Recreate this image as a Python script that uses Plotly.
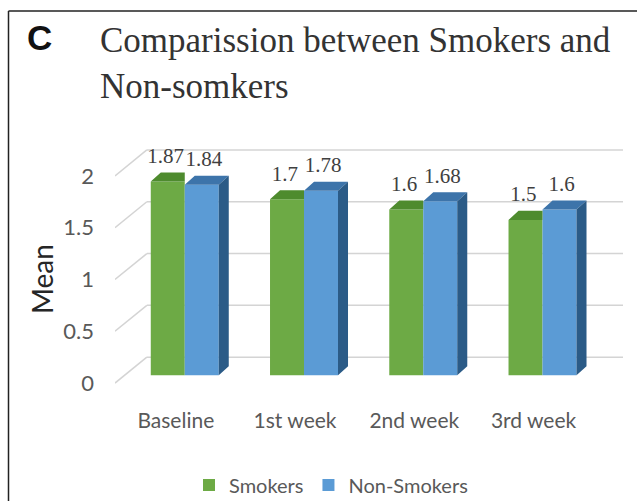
import plotly.graph_objects as go

# ---------------- data ----------------
categories = ["Baseline", "1st week", "2nd week", "3rd week"]
smokers = [1.87, 1.7, 1.6, 1.5]
non_smokers = [1.84, 1.78, 1.68, 1.6]
series_names = ["Smokers", "Non-Smokers"]
y_ticks = [0, 0.5, 1, 1.5, 2]
y_tick_labels = ["0", "0.5", "1", "1.5", "2"]
title_letter = "C"
title_text = "Comparission between Smokers and<br>Non-somkers"
y_title = "Mean"

# ---------------- style ----------------
W, H = 637, 501
ML, MR, MT, MB = 115, 14, 137, 105
X_RANGE = [-0.51, 3.75]
Y_RANGE = [-0.2, 2.3]
BAR_W = 0.285          # front face width (category units)
SHIFT = 0.075          # group centre shift from label position
DX, DY = 0.084, 0.087  # bar depth (x units, y units)
FRONT, BACK = -0.075, 0.175  # depth of front edge / back wall (y units)
X_WALL = -0.243        # left end of back wall
LAB_SPREAD = 0.018     # small horizontal spread of value labels
GRID = "#D4D4D4"
GREEN = ("#6DAA45", "#4E8B2E")
BLUE = ("#5B9BD5", "#3D74AA", "#2B5B87")
TXT = "#595959"

pw = W - ML - MR
ph = H - MT - MB


def px_x(p):
    return (p - ML) / pw


def px_y(p):
    return (H - MB - p) / ph


pos = list(range(len(categories)))
fig = go.Figure()

# front faces (bars)
fig.add_trace(go.Bar(
    x=pos, y=smokers, name=series_names[0], width=BAR_W, offset=SHIFT - BAR_W,
    marker=dict(color=GREEN[0], line_width=0), hoverinfo="skip"))
fig.add_trace(go.Bar(
    x=pos, y=non_smokers, name=series_names[1], width=BAR_W, offset=SHIFT,
    marker=dict(color=BLUE[0], line_width=0), hoverinfo="skip"))


def poly_trace(polys, color):
    xs, ys = [], []
    for pts in polys:
        for (a, b) in pts:
            xs.append(a)
            ys.append(b)
        xs.append(pts[0][0])
        ys.append(pts[0][1])
        xs.append(None)
        ys.append(None)
    return go.Scatter(x=xs, y=ys, mode="lines", fill="toself", fillcolor=color,
                      line=dict(width=0, color=color), showlegend=False,
                      hoverinfo="skip")


# smokers top faces (right part hidden behind the neighbouring bar)
g_top = []
for p, v in zip(pos, smokers):
    xl = p + SHIFT - BAR_W
    xr = p + SHIFT
    g_top.append([(xl, v), (xr, v), (xr, v + DY), (xl + DX, v + DY)])
fig.add_trace(poly_trace(g_top, GREEN[1]))

# non-smokers top and side faces
b_top, b_side = [], []
for p, v in zip(pos, non_smokers):
    xl = p + SHIFT
    xr = p + SHIFT + BAR_W
    b_top.append([(xl, v), (xr, v), (xr + DX, v + DY), (xl + DX, v + DY)])
    b_side.append([(xr, 0), (xr + DX, DY), (xr + DX, v + DY), (xr, v)])
fig.add_trace(poly_trace(b_top, BLUE[1]))
fig.add_trace(poly_trace(b_side, BLUE[2]))

# value labels
lab_x, lab_y, lab_t = [], [], []
for p, v in zip(pos, smokers):
    lab_x.append(p + SHIFT - BAR_W / 2 - LAB_SPREAD)
    lab_y.append(v + DY + 0.04)
    lab_t.append(str(v))
for p, v in zip(pos, non_smokers):
    lab_x.append(p + SHIFT + BAR_W / 2 + LAB_SPREAD)
    lab_y.append(v + DY + 0.04)
    lab_t.append(str(v))
fig.add_trace(go.Scatter(
    x=lab_x, y=lab_y, text=lab_t, mode="text", textposition="top center",
    textfont=dict(family="Liberation Serif", size=21, color="#404040"),
    showlegend=False, hoverinfo="skip", cliponaxis=False))

# back wall gridlines + slanted side lines
shapes = []
for t in y_ticks:
    shapes.append(dict(type="line", xref="x", yref="y", x0=X_WALL, x1=X_RANGE[1],
                       y0=t + BACK, y1=t + BACK, line=dict(color=GRID, width=1.5),
                       layer="below"))
    shapes.append(dict(type="line", xref="x", yref="y", x0=X_RANGE[0], x1=X_WALL,
                       y0=t + FRONT, y1=t + BACK, line=dict(color=GRID, width=1.5),
                       layer="below"))
# figure frame (left and top border)
shapes.append(dict(type="line", xref="paper", yref="paper", x0=px_x(8.5), x1=px_x(8.5),
                   y0=px_y(H + 5), y1=px_y(11), line=dict(color="#222222", width=1.5)))
shapes.append(dict(type="line", xref="paper", yref="paper", x0=px_x(8.5), x1=px_x(W + 5),
                   y0=px_y(11), y1=px_y(11), line=dict(color="#222222", width=1.5)))

annotations = [
    dict(text="<b>" + title_letter + "</b>", xref="paper", yref="paper", x=px_x(25), y=px_y(37),
         xanchor="left", yanchor="middle", showarrow=False,
         font=dict(family="Liberation Sans", size=35, color="#111111")),
    dict(text=title_text, xref="paper", yref="paper", x=px_x(98), y=px_y(64),
         xanchor="left", yanchor="middle", align="left", showarrow=False,
         font=dict(family="Liberation Serif", size=35, color="#333333")),
    dict(text=y_title, xref="paper", yref="paper", x=px_x(42), y=px_y(279),
         xanchor="center", yanchor="middle", textangle=-90, showarrow=False,
         font=dict(family="Lato", size=28, color="#262626")),
]

fig.update_layout(
    width=W, height=H,
    margin=dict(l=ML, r=MR, t=MT, b=MB, pad=0, autoexpand=False),
    paper_bgcolor="white", plot_bgcolor="white",
    barmode="overlay",
    shapes=shapes, annotations=annotations,
    showlegend=True,
    legend=dict(orientation="h", xref="container", yref="container",
                x=331 / W, y=1 - 485 / H, xanchor="center", yanchor="middle",
                font=dict(family="Lato", size=20, color=TXT),
                itemwidth=30, traceorder="normal"),
    xaxis=dict(range=X_RANGE, tickvals=pos, ticktext=categories, showgrid=False,
               zeroline=False, showline=False, ticks="", ticklabelstandoff=10,
               tickfont=dict(family="Lato", size=21, color=TXT), fixedrange=True),
    yaxis=dict(range=Y_RANGE, tickvals=[t + FRONT for t in y_ticks],
               ticktext=y_tick_labels, showgrid=False, zeroline=False,
               showline=False, ticks="", ticklabelstandoff=20,
               tickfont=dict(family="Lato", size=22, color=TXT), fixedrange=True),
)

fig.write_html("out.html")
